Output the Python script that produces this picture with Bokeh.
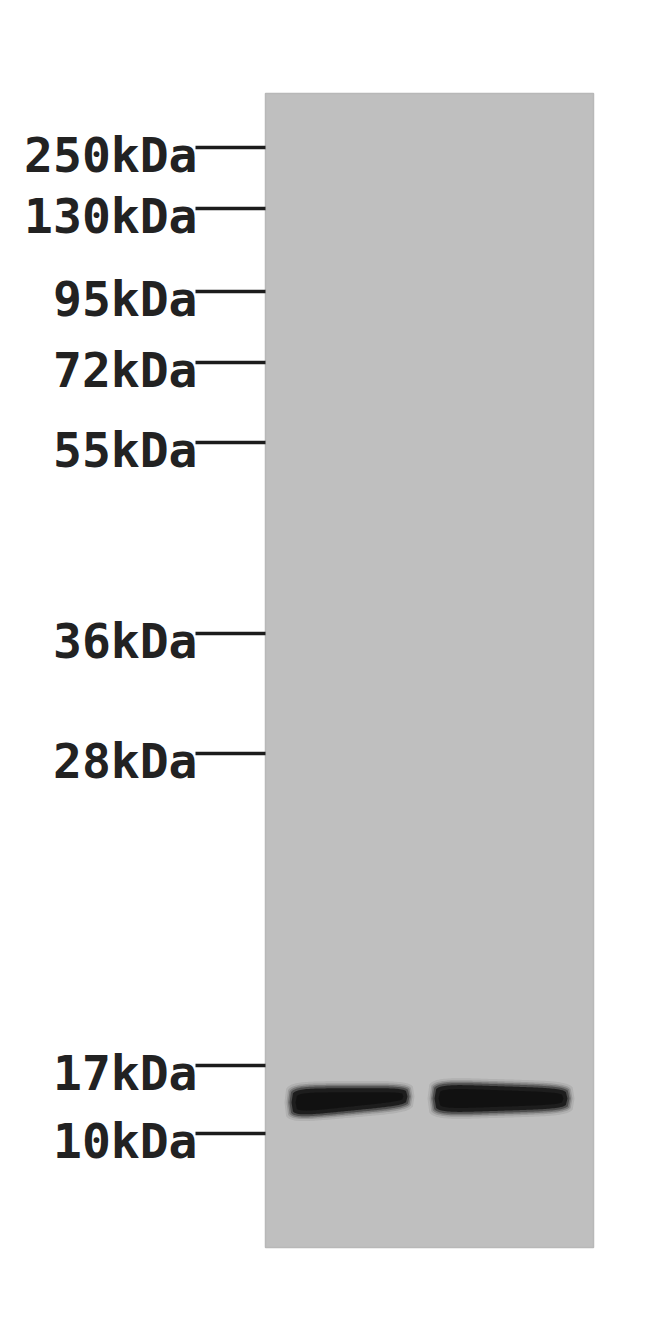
import numpy as np
from bokeh.plotting import figure
from bokeh.models import ColumnDataSource, Range1d
from bokeh.embed import file_html
from bokeh.resources import INLINE
from bokeh.core.properties import value

# marker ladder: label and migration position (page px from top)
marker_labels = ["250kDa", "130kDa", "95kDa", "72kDa", "55kDa",
                 "36kDa", "28kDa", "17kDa", "10kDa"]
marker_y = [147, 208, 291, 362, 442, 633, 753, 1065, 1133]

# gel lane extent
gel_left, gel_right = 265, 593
gel_top, gel_bottom = 93, 1247

# bands: x start/end, centre at left/right end, thickness at left/right end
band_x0 = [290, 433]
band_x1 = [408, 568]
band_yl = [1102, 1098]
band_yr = [1096, 1098]
band_hl = [30, 31]
band_hr = [19, 22]

p = figure(width=634, height=1302, output_backend="svg", toolbar_location=None,
           x_range=Range1d(0, 634), y_range=Range1d(1302, 0),
           min_border=0, outline_line_color=None)
p.axis.visible = False
p.grid.visible = False
p.background_fill_color = "white"
p.border_fill_color = "white"

# gel
p.quad(left=[gel_left], right=[gel_right], top=[gel_top], bottom=[gel_bottom],
       fill_color="#bfbfbf", line_color="#b8b8b8", line_width=1.5)

# ladder ticks and labels
src = ColumnDataSource(dict(y=marker_y, lab=marker_labels,
                            x0=[195] * len(marker_y), x1=[265] * len(marker_y)))
p.segment(x0="x0", y0="y", x1="x1", y1="y", source=src,
          line_color="#1c1c1c", line_width=3.5)
p.text(x=197, y="y", text="lab", source=src, text_align="right",
       text_baseline="middle", y_offset=7,
       text_font=value("DejaVu Sans Mono"), text_font_style="bold",
       text_font_size="48px", text_color="#222222")


def band_outline(x0, x1, yl, yr, hl, hr, grow):
    t = np.linspace(0, 1, 80)
    xs = x0 - grow + t * (x1 - x0 + 2 * grow)
    yc = yl + (yr - yl) * t
    h = (hl + (hr - hl) * t) / 2 + grow
    s = (1 - np.abs(2 * t - 1) ** 5) ** (1 / 5)
    top = yc - h * s
    bot = yc + h * s
    return list(xs) + list(xs[::-1]), list(top) + list(bot[::-1])


for i in range(len(band_x0)):
    for grow, alpha in [(6, 0.08), (4, 0.15), (2.5, 0.25), (1, 0.4),
                        (-1, 0.8), (-5, 0.9)]:
        xs, ys = band_outline(band_x0[i], band_x1[i], band_yl[i], band_yr[i],
                              band_hl[i], band_hr[i], grow)
        p.patch(xs, ys, fill_color="#111111", fill_alpha=alpha, line_color=None)

open("out.html", "w").write(file_html(p, INLINE))
